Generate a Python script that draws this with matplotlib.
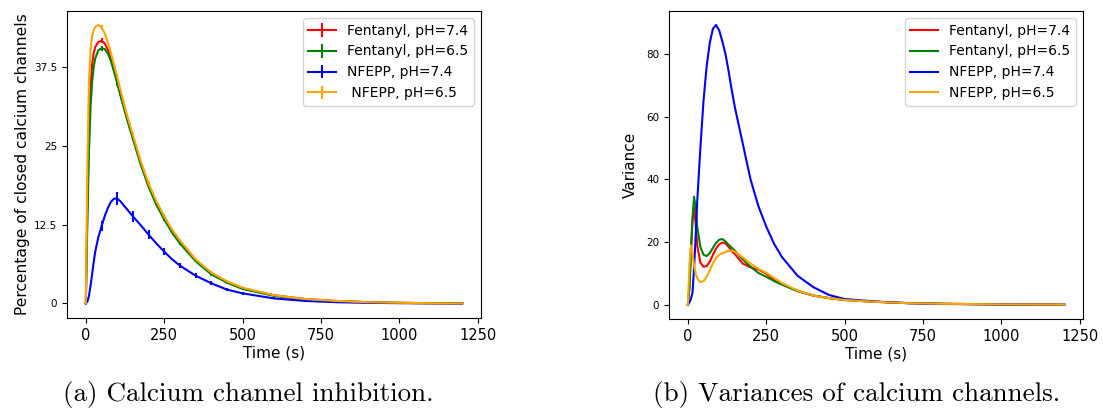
import matplotlib
matplotlib.use("Agg")
import matplotlib.pyplot as plt
import numpy as np

plt.rcParams["font.family"] = ["DejaVu Sans"]
plt.rcParams["axes.unicode_minus"] = False

# time points (s), shared by both panels
t = np.array([0, 5, 10, 15, 20, 25, 30, 40, 50, 60, 70, 80, 90, 100, 110, 120, 130, 140,
              150, 175, 200, 225, 250, 275, 300, 350, 400, 450, 500, 600, 700, 800, 900,
              1000, 1100, 1200])

labels_a = ["Fentanyl, pH=7.4", "Fentanyl, pH=6.5", "NFEPP, pH=7.4", " NFEPP, pH=6.5"]
labels_b = ["Fentanyl, pH=7.4", "Fentanyl, pH=6.5", "NFEPP, pH=7.4", "NFEPP, pH=6.5"]
colors = ["red", "green", "blue", "orange"]

# (a) percentage of closed calcium channels
fen74 = [0, 16, 28, 34.5, 37.8, 39.6, 40.6, 41.4, 41.6, 41.2, 40.2, 38.7, 36.9, 35.1, 33.2,
         31.4, 29.6, 27.9, 26.3, 22.2, 18.7, 15.9, 13.6, 11.5, 9.8, 6.9, 4.8, 3.4, 2.4, 1.3,
         0.7, 0.4, 0.2, 0.1, 0.05, 0.02]
fen65 = [0, 13, 24, 31, 35, 37.4, 38.8, 40.1, 40.4, 40.3, 39.6, 38.4, 36.7, 34.9, 33.0,
         31.2, 29.4, 27.7, 26.1, 22.0, 18.5, 15.6, 13.3, 11.2, 9.5, 6.7, 4.6, 3.3, 2.3, 1.2,
         0.6, 0.35, 0.2, 0.1, 0.05, 0.02]
nfe74 = [0, 0.3, 1.2, 2.8, 4.6, 6.5, 8.2, 10.5, 12.2, 13.8, 15.1, 16.1, 16.6, 16.6, 16.2,
         15.6, 15.0, 14.4, 13.8, 12.4, 10.9, 9.5, 8.2, 7.0, 6.0, 4.4, 3.2, 2.2, 1.6, 0.8,
         0.4, 0.2, 0.1, 0.05, 0.02, 0.01]
nfe65 = [0, 22, 35, 40, 42.3, 43.3, 43.8, 44.1, 43.7, 42.8, 41.4, 39.7, 37.8, 35.9, 33.9,
         32.0, 30.1, 28.4, 26.7, 22.6, 19.0, 16.2, 13.8, 11.7, 10.0, 7.0, 4.9, 3.5, 2.5, 1.3,
         0.7, 0.4, 0.2, 0.1, 0.05, 0.02]

err_small = [0, 0.3, 0.4, 0.4, 0.4, 0.4, 0.4, 0.4, 0.4, 0.4, 0.4, 0.4, 0.4, 0.4, 0.4, 0.4,
             0.4, 0.4, 0.4, 0.35, 0.35, 0.3, 0.3, 0.3, 0.25, 0.2, 0.2, 0.15, 0.15, 0.1, 0.1,
             0.1, 0.1, 0.1, 0.1, 0.1]
err_nfe74 = [0, 0.2, 0.3, 0.4, 0.5, 0.6, 0.7, 0.75, 0.8, 0.9, 0.95, 1.0, 1.0, 1.0, 0.95,
             0.9, 0.9, 0.85, 0.85, 0.75, 0.7, 0.6, 0.55, 0.5, 0.45, 0.35, 0.3, 0.25, 0.2,
             0.15, 0.1, 0.1, 0.1, 0.1, 0.1, 0.1]

# (b) variances
var_fen74 = [0, 6, 18, 27, 31, 26, 19, 13.5, 12.2, 12.4, 13.8, 16, 18, 19.3, 19.9, 19.6,
             18.5, 17.2, 16.2, 13.2, 12.0, 11.3, 10.0, 8.0, 6.7, 4.5, 3.0, 2.2, 1.6, 1.0,
             0.6, 0.4, 0.3, 0.2, 0.15, 0.1]
var_fen65 = [0, 5, 16, 28, 34.5, 31, 25, 18.5, 16, 15.6, 16.5, 18.2, 19.8, 20.8, 21, 20.3,
             19.2, 18.3, 17.3, 14.5, 12.2, 10.2, 9.0, 7.6, 6.5, 4.4, 3.0, 2.2, 1.6, 1.0,
             0.6, 0.4, 0.3, 0.2, 0.15, 0.1]
var_nfe74 = [0, 0.8, 2, 4, 12, 22, 33, 50, 65, 76, 83.5, 88, 89.2, 87.5, 84, 80, 74.5, 68.5,
             63, 51.5, 40, 31.5, 25, 19.5, 15.3, 9.3, 5.7, 3.2, 1.9, 1.1, 0.6, 0.35, 0.25,
             0.15, 0.1, 0.05]
var_nfe65 = [0, 12, 19, 16.5, 12.5, 10, 8.5, 7.3, 7.6, 9, 11, 13.3, 15, 16, 16.5, 16.9,
             17.2, 17.3, 17, 15.2, 13.2, 11.5, 10.3, 8.6, 7.0, 4.6, 3.0, 2.2, 1.6, 1.0, 0.6,
             0.4, 0.3, 0.2, 0.15, 0.1]

W, H = 1103, 412
fig = plt.figure(figsize=(W / 100, H / 100), dpi=100)


def px_axes(x0, y0, x1, y1):
    return fig.add_axes([x0 / W, 1 - y1 / H, (x1 - x0) / W, (y1 - y0) / H])


ax1 = px_axes(67, 11, 481, 318)
ax2 = px_axes(669, 11, 1083, 319)

mask = (t % 50 == 0)
for y, e, c, lab in zip([fen74, fen65, nfe74, nfe65],
                        [err_small, err_small, err_nfe74, err_small],
                        colors, labels_a):
    ax1.errorbar(t, y, yerr=e, errorevery=mask, color=c, label=lab, lw=1.5, elinewidth=1.5)
ax1.set_yticks([0, 12.5, 25, 37.5])
ax1.set_yticklabels(["0", "12.5", "25", "37.5"])
ax1.set_xticks([0, 250, 500, 750, 1000, 1250])
ax1.set_xlabel("Time (s)", fontsize=11, labelpad=2)
ax1.set_ylabel("Percentage of closed calcium channels", fontsize=11.2, labelpad=3)
ax1.legend(loc="upper right", fontsize=10)

for y, c, lab in zip([var_fen74, var_fen65, var_nfe74, var_nfe65], colors, labels_b):
    ax2.plot(t, y, color=c, label=lab, lw=1.5)
ax2.set_yticks([0, 20, 40, 60, 80])
ax2.set_xticks([0, 250, 500, 750, 1000, 1250])
ax2.set_xlabel("Time (s)", fontsize=11, labelpad=2)
ax2.set_ylabel("Variance", fontsize=11, labelpad=6)
ax2.legend(loc="upper right", fontsize=10)

for ax in (ax1, ax2):
    ax.tick_params(axis="x", labelsize=10.5)
    ax.tick_params(axis="y", labelsize=7.5)

fig.text(248 / W, 1 - 395 / H, "(a) Calcium channel inhibition.", family="cmr10",
         fontsize=19.5, ha="center", va="center")
fig.text(857 / W, 1 - 395 / H, "(b) Variances of calcium channels.", family="cmr10",
         fontsize=19.5, ha="center", va="center")

fig.savefig("out.png", dpi=100)
